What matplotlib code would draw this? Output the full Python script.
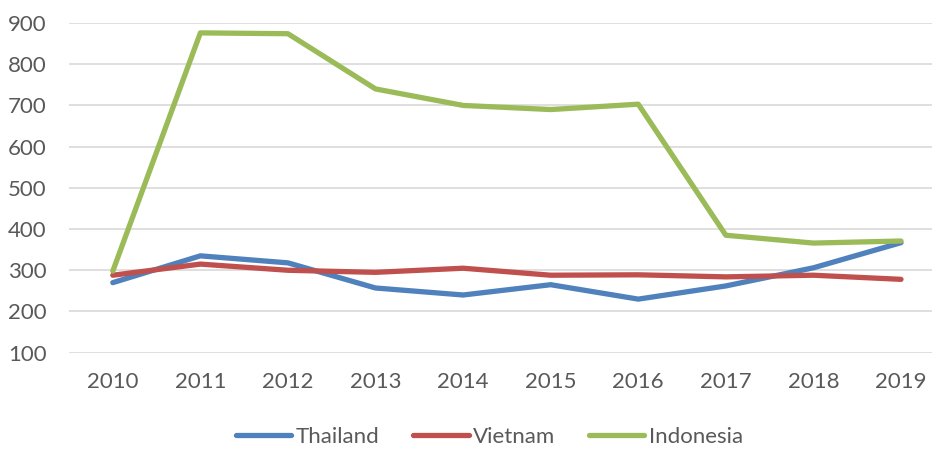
import matplotlib
matplotlib.use("Agg")
import matplotlib.pyplot as plt

years = ["2010", "2011", "2012", "2013", "2014", "2015", "2016", "2017", "2018", "2019"]
thailand = [270, 335, 318, 257, 240, 265, 230, 262, 306, 367]
vietnam = [288, 315, 300, 295, 305, 288, 289, 284, 288, 278]
indonesia = [298, 876, 874, 740, 700, 690, 703, 385, 366, 371]
yticks = [100, 200, 300, 400, 500, 600, 700, 800, 900]

plt.rcParams['font.family'] = ['Lato', 'DejaVu Sans']
TXT = '#595959'

fig = plt.figure(figsize=(9.32, 4.5), dpi=100)
ax = fig.add_axes([69/932, (450-352.7)/450, 1 - 69/932, (352.7-23)/450])

x = list(range(len(years)))
series = [("Thailand", thailand, '#4F81BD'),
          ("Vietnam", vietnam, '#C0504D'),
          ("Indonesia", indonesia, '#9BBB59')]
handles = []
for name, vals, col in series:
    h, = ax.plot(x, vals, color=col, lw=3.8, solid_capstyle='round',
                 solid_joinstyle='round', label=name, zorder=3)
    handles.append(h)

ax.set_ylim(100, 900)
ax.set_xlim(-0.5, 9 + (932-901)/87.6)
ax.set_yticks(yticks)
ax.set_xticks(x)
ax.set_xticklabels(years)
ax.grid(axis='y', color='#D9D9D9', lw=1.2, zorder=0)
ax.set_axisbelow(True)
for s in ax.spines.values():
    s.set_visible(False)
ax.tick_params(axis='both', length=0, labelsize=16, colors=TXT)
ax.tick_params(axis='y', pad=16)
ax.tick_params(axis='x', pad=14)

leg = fig.legend(handles=handles, loc='center', bbox_to_anchor=(0.525, 1 - 436.7/450),
                 ncol=3, frameon=False, fontsize=16, handlelength=2.5,
                 handletextpad=0.2, columnspacing=1.5, labelcolor=TXT)

fig.savefig("out.png", dpi=100, facecolor='white')
